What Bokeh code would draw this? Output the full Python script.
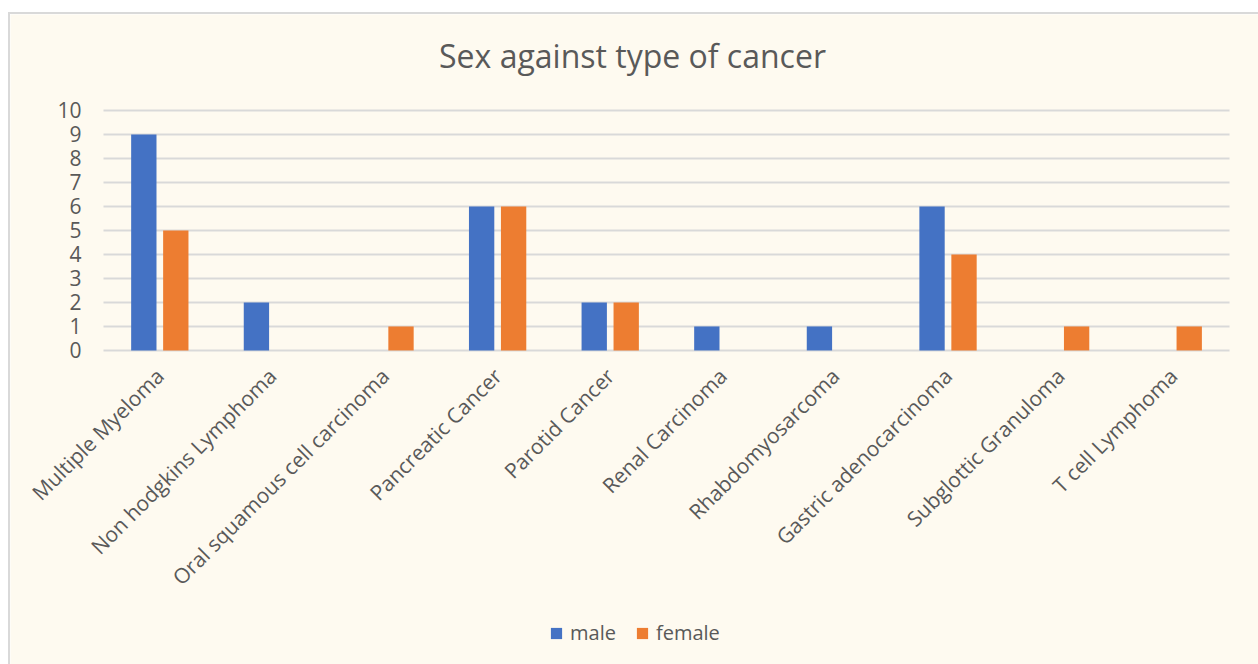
from math import pi

from bokeh.plotting import figure
from bokeh.models import (ColumnDataSource, Range1d, FixedTicker, Legend, LegendItem, Spacer)
from bokeh.layouts import column, row
from bokeh.transform import dodge
from bokeh.core.properties import value
from bokeh.embed import file_html
from bokeh.resources import INLINE

# Cancer types and patient counts by sex
categories = ["Multiple Myeloma", "Non hodgkins Lymphoma", "Oral squamous cell carcinoma",
              "Pancreatic Cancer", "Parotid Cancer", "Renal Carcinoma", "Rhabdomyosarcoma",
              "Gastric adenocarcinoma", "Subglottic Granuloma", "T cell Lymphoma"]
male = [9, 2, 0, 6, 2, 1, 1, 6, 0, 0]
female = [5, 0, 1, 6, 2, 0, 0, 4, 1, 1]
y_ticks = list(range(0, 11))
title_text = "Sex against type of cancer"

BG = "#FEFAF0"
TEXT = "#595959"
GRID = "#D9D9D9"
BLUE = "#4472C4"
ORANGE = "#ED7D31"
FONT = "Open Sans"

n_cat = len(categories)
# one unit per category, slot centres at i + 0.5
source = ColumnDataSource(dict(pos=[i + 0.5 for i in range(n_cat)], cat=categories,
                               male=male, female=female))
grid_src = ColumnDataSource(dict(y=y_ticks, x0=[0] * len(y_ticks), x1=[n_cat] * len(y_ticks)))

# The plot frame covers the whole card: value axis 0-10 in the middle band,
# title above it and rotated category names plus legend below it.
p = figure(width=1250, height=652, output_backend="svg", toolbar_location=None,
           x_range=Range1d(-0.826, 10.275), y_range=Range1d(-13.17, 14),
           x_axis_location=None,
           min_border_left=0, min_border_right=0, min_border_top=0, min_border_bottom=0)

p.background_fill_color = BG
p.border_fill_color = BG
p.outline_line_color = None
p.styles = {"border-left": "2px solid #D9D9D9", "border-top": "2px solid #D9D9D9"}

# Horizontal gridlines across the category slots (the 0 line doubles as the base line)
p.segment(x0="x0", x1="x1", y0="y", y1="y", source=grid_src, line_color=GRID, line_width=2)
p.xgrid.grid_line_color = None
p.ygrid.grid_line_color = None

bar_w = 0.225
r_male = p.vbar(x=dodge("pos", -0.142), top="male", width=bar_w,
                source=source, fill_color=BLUE, line_color=None)
r_female = p.vbar(x=dodge("pos", 0.142), top="female", width=bar_w,
                  source=source, fill_color=ORANGE, line_color=None)

# Category names, rotated 45 degrees and ending just under each category
p.text(x="pos", y=-0.9, text="cat", source=source,
       angle=pi / 4, text_align="right", text_baseline="middle",
       text_font=value(FONT), text_font_size=value("21px"), text_color=TEXT)

# Chart title
p.text(x=[4.698], y=[12.3], text=[title_text], text_align="center", text_baseline="middle",
       text_font=value(FONT), text_font_size=value("32px"), text_color=TEXT)

# Value axis pinned to the left edge of the category slots
p.yaxis.ticker = FixedTicker(ticks=y_ticks)
p.yaxis.fixed_location = 0
p.yaxis.major_label_text_font = FONT
p.yaxis.major_label_text_font_size = "21px"
p.yaxis.major_label_text_color = TEXT
p.yaxis.axis_line_color = None
p.yaxis.major_tick_line_color = None
p.yaxis.minor_tick_line_color = None
p.yaxis.major_tick_out = 0
p.yaxis.major_label_standoff = 22

legend = Legend(items=[LegendItem(label="male", renderers=[r_male]),
                       LegendItem(label="female", renderers=[r_female])],
                orientation="horizontal", location=(539, 20),
                background_fill_alpha=0, border_line_color=None,
                glyph_width=14, glyph_height=14, label_standoff=7, spacing=19,
                label_text_font=FONT, label_text_font_size="20px", label_text_color=TEXT,
                padding=2, margin=0)
p.add_layout(legend, "center")

layout = column(Spacer(height=12), row(Spacer(width=8), p))

open("out.html", "w").write(file_html(layout, INLINE))
